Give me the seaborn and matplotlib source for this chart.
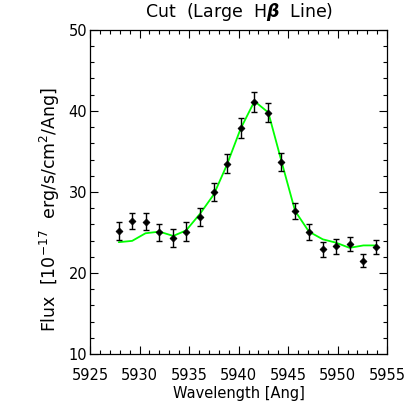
import numpy as np
import pandas as pd
import matplotlib
matplotlib.use("Agg")
import matplotlib.pyplot as plt
import seaborn as sns
from matplotlib.ticker import MultipleLocator

# Data
wavelength = [5927.9, 5929.25, 5930.6, 5932.0, 5933.4, 5934.7, 5936.1, 5937.5,
              5938.8, 5940.2, 5941.6, 5943.0, 5944.3, 5945.7, 5947.1, 5948.5,
              5949.8, 5951.2, 5952.6, 5953.9]
flux = [25.2, 26.4, 26.35, 25.0, 24.3, 25.1, 26.9, 30.0,
        33.5, 37.9, 41.1, 39.8, 33.7, 27.6, 25.05, 22.9,
        23.3, 23.6, 21.5, 23.2]
flux_err = [1.09, 1.02, 1.02, 1.04, 1.09, 1.13, 1.1, 1.15,
            1.17, 1.27, 1.29, 1.23, 1.1, 1.0, 0.96, 0.9,
            0.9, 0.86, 0.82, 0.92]
model = [23.8, 23.96, 24.9, 25.1, 24.57, 25.25, 27.3, 29.7,
         33.3, 37.8, 41.2, 39.8, 33.9, 27.65, 25.1, 24.15,
         23.75, 23.1, 23.4, 23.4]

x_ticks = [5925, 5930, 5935, 5940, 5945, 5950, 5955]
y_ticks = [10, 20, 30, 40, 50]

sns.set_style("ticks")
plt.rcParams['font.family'] = ['DejaVu Sans']
plt.rcParams['font.size'] = 10
plt.rcParams['text.color'] = 'black'
plt.rcParams['axes.labelcolor'] = 'black'
plt.rcParams['xtick.color'] = 'black'
plt.rcParams['ytick.color'] = 'black'

df = pd.DataFrame({"wavelength": wavelength, "flux": flux, "err": flux_err, "model": model})

fig = plt.figure(figsize=(4.15, 4.15), dpi=100)
ax = fig.add_axes([0.217, 0.147, 0.716, 0.781])

sns.lineplot(data=df, x="wavelength", y="model", color="#00ff00", lw=1.3, ax=ax, zorder=2)
ax.errorbar(df["wavelength"], df["flux"], yerr=df["err"], fmt="none", ecolor="black",
            elinewidth=1.0, capsize=2.5, capthick=1.0, zorder=3)
sns.scatterplot(data=df, x="wavelength", y="flux", marker="D", s=12, color="black",
                edgecolor="black", linewidth=0.6, ax=ax, zorder=4)

ax.set_xlim(5925, 5955)
ax.set_ylim(10, 50)
ax.set_xticks(x_ticks)
ax.set_yticks(y_ticks)
ax.xaxis.set_minor_locator(MultipleLocator(1))
ax.yaxis.set_minor_locator(MultipleLocator(2))
ax.tick_params(which="both", direction="in", top=True, right=True, color="black", width=0.8)
ax.tick_params(which="major", length=6)
ax.tick_params(which="minor", length=3)
ax.tick_params(axis="x", which="major", pad=10, labelsize=10.5)
ax.tick_params(axis="y", which="major", pad=2, labelsize=10.5)
for s in ax.spines.values():
    s.set_color("black")
    s.set_linewidth(0.9)

ax.set_xlabel("Wavelength [Ang]", fontsize=10.5, labelpad=2)
ax.set_ylabel(r"Flux  [10$^{-17}$  erg/s/cm$^{2}$/Ang]", fontsize=12.5, labelpad=5)
ax.yaxis.label.set_y(0.445)
ax.set_title(r"Cut  (Large  H$\boldsymbol{\beta}$  Line)", fontsize=12.5, pad=9)

fig.savefig("out.png", dpi=100, facecolor="white")
